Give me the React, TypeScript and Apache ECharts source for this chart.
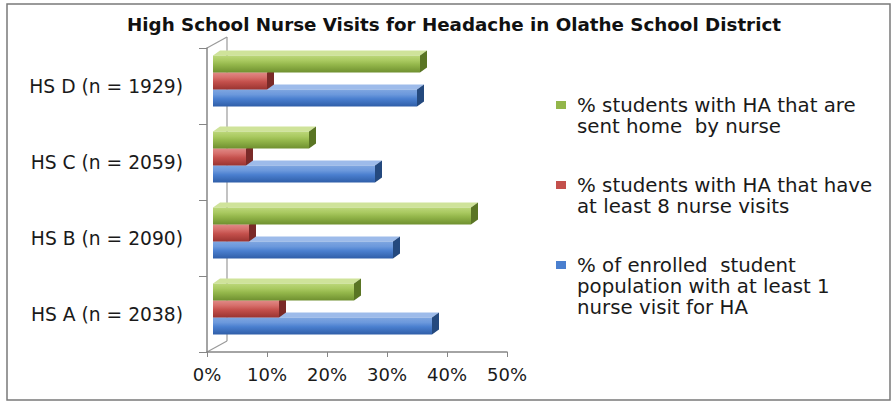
import React, { useEffect, useRef } from "react";
import * as echarts from "echarts";

const categories = ["HS A (n = 2038)", "HS B (n = 2090)", "HS C (n = 2059)", "HS D (n = 1929)"];
const enrolledPct = [36.5, 30, 27, 34];
const eightVisitsPct = [11, 6, 5.5, 9];
const sentHomePct = [23.5, 43, 16, 34.5];
const xTicks = [0, 10, 20, 30, 40, 50];
const seriesNames = [
  "% of enrolled  student population with at least 1 nurse visit for HA",
  "% students with HA that have at least 8 nurse visits",
  "% students with HA that are sent home  by nurse",
];
const legendLines = [
  ["% students with HA that are", "sent home  by nurse"],
  ["% students with HA that have", "at least 8 nurse visits"],
  ["% of enrolled  student", "population with at least 1", "nurse visit for HA"],
];
const title = "High School Nurse Visits for Headache in Olathe School District";

const palettes = [
  { top: "#7fa6e0", hi: "#6b98dc", mid: "#4a7fcf", low: "#2f5ea8", side: "#24497e", cap: "#9dbbea" },
  { top: "#e08a87", hi: "#d66e6a", mid: "#c4504c", low: "#9a3431", side: "#7a2a28", cap: "#eaa3a0" },
  { top: "#bcd77a", hi: "#a9c960", mid: "#93b64a", low: "#6f9030", side: "#5a7524", cap: "#cfe39a" },
];

const FONT = "DejaVu Sans";

export default function App() {
  const ref = useRef<HTMLDivElement>(null);
  useEffect(() => {
    if (!ref.current) return;
    const chart = echarts.init(ref.current, null, { renderer: "svg" });
    const seriesValues = [enrolledPct, eightVisitsPct, sentHomePct];
    const barH = 17;
    const dx = 7;
    const dy = 5;

    const makeRender = (s: number) => (params: any, api: any) => {
      const val = api.value(0);
      const cat = api.value(1);
      const end = api.coord([val, cat]);
      const start = api.coord([0, cat]);
      const c = end[1];
      const y = c + (0.5 - s) * barH;
      const x0 = start[0];
      const x1 = end[0];
      const p = palettes[s];
      return {
        type: "group",
        children: [
          {
            type: "polygon",
            shape: { points: [[x0, y], [x0 + dx, y - dy], [x1 + dx, y - dy], [x1, y]] },
            style: { fill: p.cap },
          },
          {
            type: "rect",
            shape: { x: x0, y: y, width: x1 - x0, height: barH },
            style: {
              fill: new echarts.graphic.LinearGradient(0, 0, 0, 1, [
                { offset: 0, color: p.top },
                { offset: 0.3, color: p.hi },
                { offset: 0.55, color: p.mid },
                { offset: 1, color: p.low },
              ]),
            },
          },
          {
            type: "polygon",
            shape: { points: [[x1, y], [x1 + dx, y - dy], [x1 + dx, y + barH - dy], [x1, y + barH]] },
            style: { fill: p.side },
          },
        ],
      };
    };

    const legendGraphics: any[] = [];
    const legendTops = [105, 185, 265];
    const legendColors = [palettes[2].mid, palettes[1].mid, palettes[0].mid];
    legendLines.forEach((lines, i) => {
      legendGraphics.push({
        type: "rect",
        shape: { x: 556, y: legendTops[i] - 4, width: 10, height: 8 },
        style: { fill: legendColors[i] },
      });
      lines.forEach((ln, j) => {
        legendGraphics.push({
          type: "text",
          x: 577,
          y: legendTops[i] + j * 21,
          style: {
            text: ln,
            font: `19.8px "${FONT}"`,
            fill: "#1a1a1a",
            textVerticalAlign: "middle",
            verticalAlign: "middle",
          },
        });
      });
    });

    chart.setOption({
      animation: false,
      backgroundColor: "#ffffff",
      title: {
        text: title,
        left: 449,
        textAlign: "center",
        top: 10,
        textStyle: { fontFamily: FONT, fontSize: 18.3, fontWeight: "bold", color: "#111" },
      },
      grid: [
        { left: 213, top: 43, width: 300, height: 304 },
        { left: 207, top: 48, width: 300, height: 304 },
      ],
      xAxis: [
        { gridIndex: 0, type: "value", min: 0, max: 50, interval: 10, show: false },
        {
          gridIndex: 1,
          type: "value",
          min: 0,
          max: 50,
          interval: 10,
          axisLine: { show: true, lineStyle: { color: "#868686", width: 1.5 } },
          axisTick: { show: true, length: 5, lineStyle: { color: "#868686" } },
          splitLine: { show: false },
          axisLabel: {
            margin: 13,
            formatter: (v: number) => (xTicks.includes(v) ? v + "%" : ""),
            fontFamily: FONT,
            fontSize: 18,
            color: "#1a1a1a",
          },
        },
      ],
      yAxis: [
        { gridIndex: 0, type: "category", data: categories, show: false },
        {
          gridIndex: 1,
          type: "category",
          data: categories,
          axisLine: { show: true, lineStyle: { color: "#868686", width: 1.5 } },
          axisTick: { show: true, length: 8, lineStyle: { color: "#868686" } },
          axisLabel: { margin: 24, fontFamily: FONT, fontSize: 18.7, color: "#1a1a1a" },
        },
      ],
      graphic: [
        {
          type: "rect",
          shape: { x: 7, y: 4, width: 883, height: 396 },
          style: { fill: "none", stroke: "#7a7a7a", lineWidth: 1.5 },
          z: -1,
        },
        { type: "line", shape: { x1: 207, y1: 48, x2: 227, y2: 37 }, style: { stroke: "#9a9a9a", lineWidth: 1.2 } },
        { type: "line", shape: { x1: 227, y1: 37, x2: 227, y2: 341 }, style: { stroke: "#9a9a9a", lineWidth: 1.2 }, z: -1 },
        { type: "line", shape: { x1: 207, y1: 352, x2: 227, y2: 341 }, style: { stroke: "#9a9a9a", lineWidth: 1.2 } },
        ...legendGraphics,
      ],
      series: seriesValues.map((vals, s) => ({
        type: "custom",
        name: seriesNames[s],
        xAxisIndex: 0,
        yAxisIndex: 0,
        encode: { x: 0, y: 1 },
        data: vals.map((v, i) => [v, i]),
        renderItem: makeRender(s),
        z: 2 + s,
      })),
    });
    return () => chart.dispose();
  }, []);
  return (
    <div
      ref={ref}
      style={{ position: "fixed", left: 0, top: 0, width: 894, height: 406, background: "#fff" }}
    />
  );
}
